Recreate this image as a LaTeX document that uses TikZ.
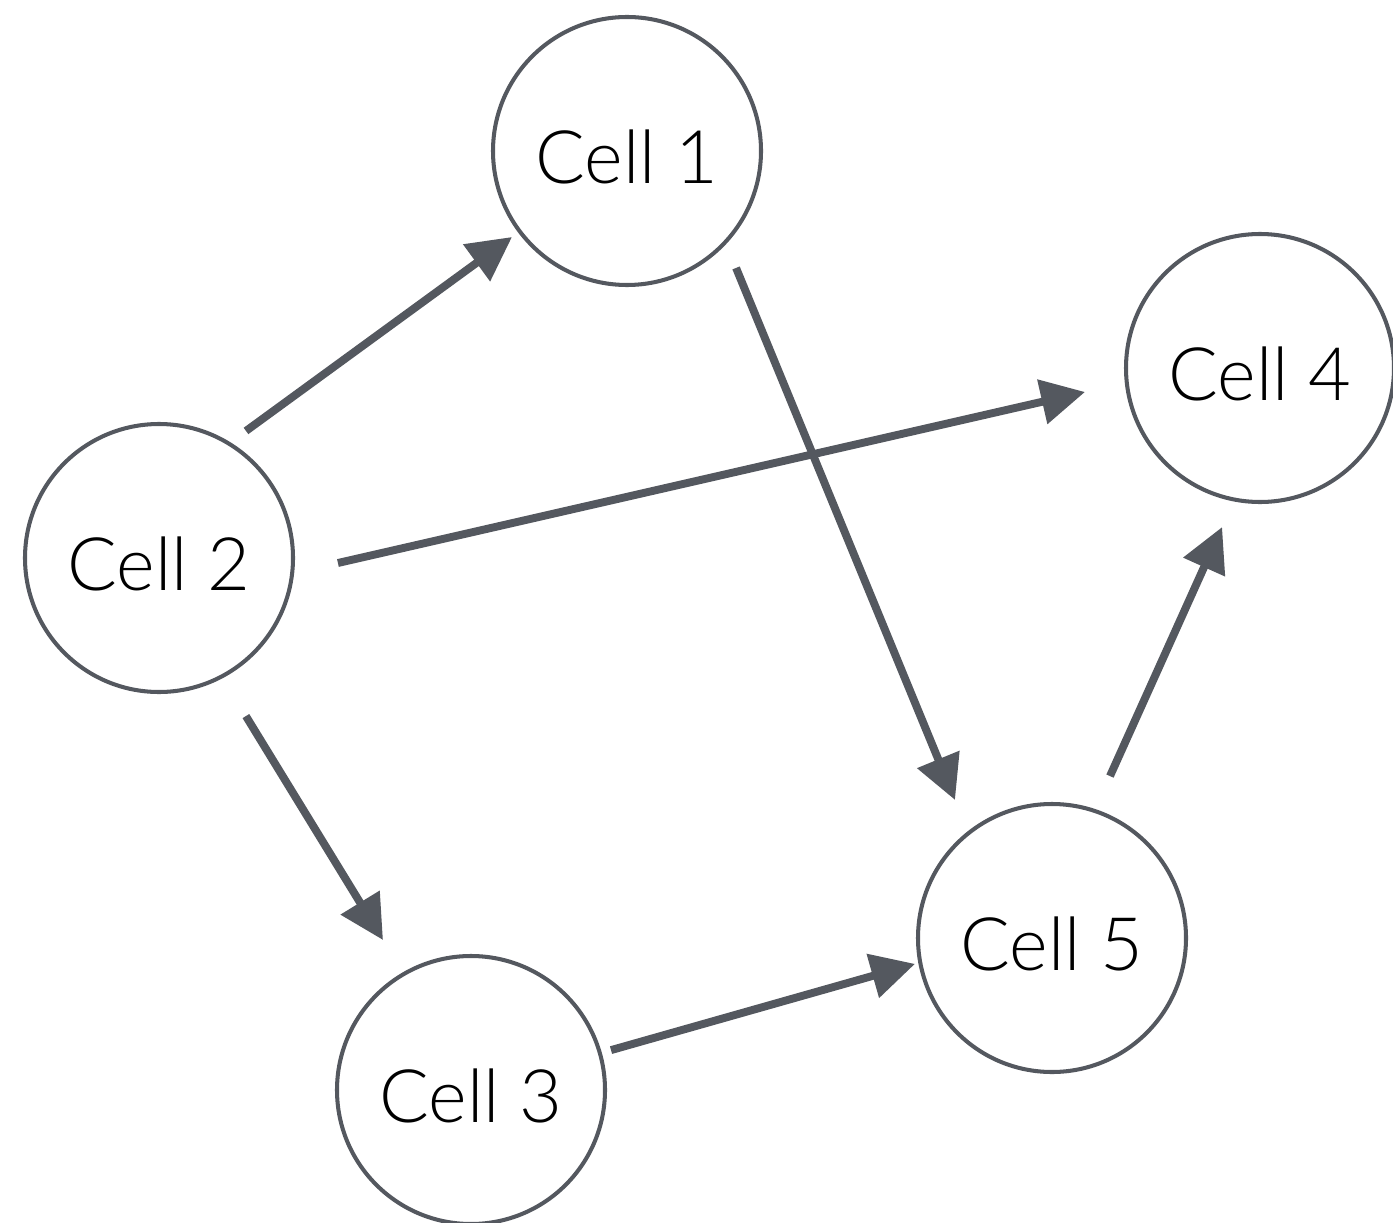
\documentclass[tikz,border=0pt]{standalone}
\usepackage{fontspec}
\setmainfont{Lato}[UprightFont=* Light]
\usetikzlibrary{arrows.meta,calc}
\definecolor{edgegray}{RGB}{84,88,95}
\tikzset{
  cell/.style={circle, draw=edgegray, line width=2.3pt, minimum size=268*0.02cm,
    inner sep=0pt, font=\fontsize{42}{50}\selectfont, text=black,
    text height=37pt, text depth=0pt},
  link/.style={draw=edgegray, line width=4.5pt,
    -{Triangle[length=25pt,width=25pt]}, fill=edgegray}
}
\begin{document}
\begin{tikzpicture}[x=0.02cm, y=-0.02cm]
  \useasboundingbox (0,0) rectangle (1393,1223);
  \node[cell] (c1) at (627,151) {Cell 1};
  \node[cell] (c2) at (159,558) {Cell 2};
  \node[cell] (c3) at (471,1090) {Cell 3};
  \node[cell] (c4) at (1260,368) {Cell 4};
  \node[cell] (c5) at (1052,938) {Cell 5};
  % edges leave and enter each circle at a fixed angle, clear of the border
  \draw[link] ($(c2.center)+(-55.6:154)$) -- ($(c1.center)+(143.2:143.6)$);
  \draw[link] ($(c1.center)+(47.0:159.9)$) -- ($(c5.center)+(-125.1:168.7)$);
  \draw[link] ($(c2.center)+(1.6:179)$) -- ($(c4.center)+(172.2:176.6)$);
  \draw[link] ($(c2.center)+(61.2:180.4)$) -- ($(c3.center)+(-120.4:173.9)$);
  \draw[link] ($(c3.center)+(-15.9:145.6)$) -- ($(c5.center)+(169.3:139.4)$);
  \draw[link] ($(c5.center)+(-70.3:172)$) -- ($(c4.center)+(103.4:163.5)$);
\end{tikzpicture}
\end{document}
